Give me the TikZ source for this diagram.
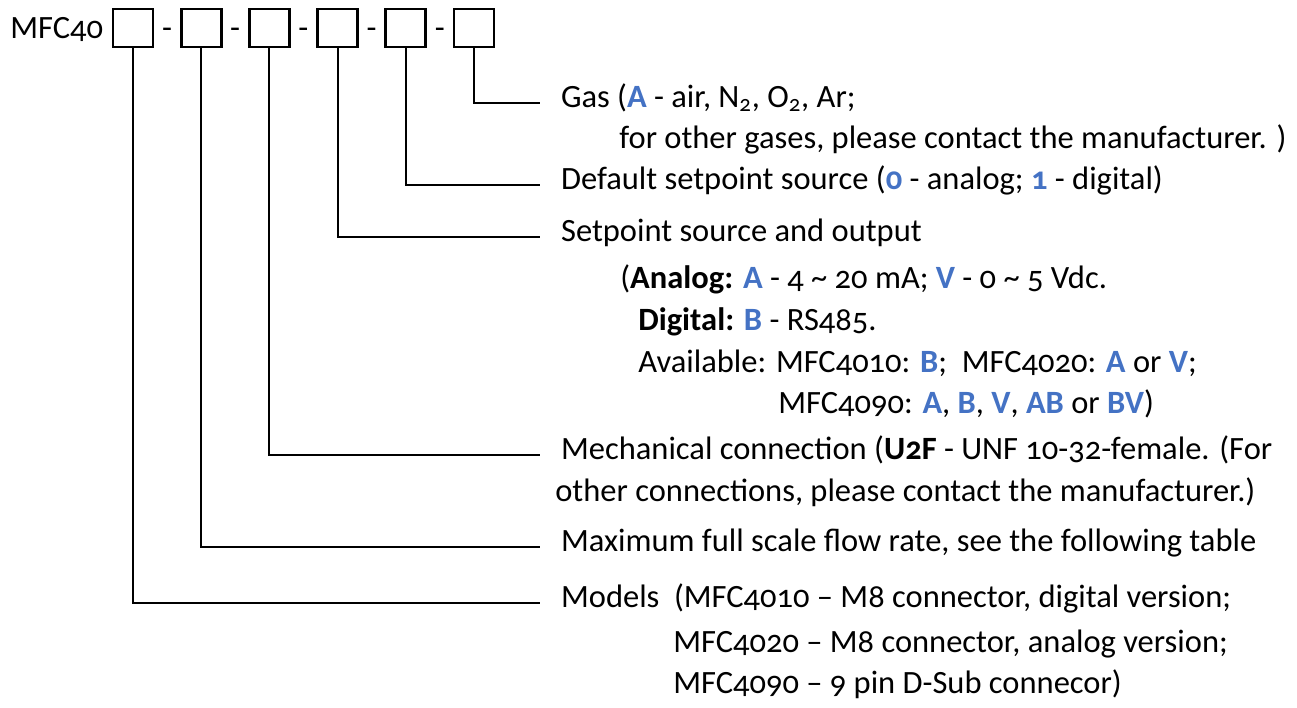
\documentclass[tikz,border=0pt]{standalone}
\usepackage{fontspec}
\setmainfont{Carlito}[Numbers=OldStyle]
\usepackage{xcolor}
\usepackage{tikz}
\usetikzlibrary{positioning}
\definecolor{optblue}{RGB}{68,114,196}
\newcommand{\opt}[1]{\textbf{\textcolor{optblue}{#1}}}

\begin{document}
\begin{tikzpicture}[x=0.02cm, y=-0.02cm, font=\fontsize{18.5pt}{22pt}\selectfont,
  slot/.style={draw, line width=1.5pt, minimum width=0.8cm, minimum height=0.76cm, inner sep=0pt},
  desc/.style={anchor=west, inner sep=0pt, outer xsep=12pt, text height=0.75em, text depth=0.25em},
  more/.style={anchor=west, inner sep=0pt, text height=0.75em, text depth=0.25em},
  lead/.style={line width=1.1pt}]
  \useasboundingbox (0,0) rectangle (1297,707);
  \node [anchor=base west, inner sep=0pt] (pre) at (10,38) {MFC40};
  \foreach \i in {1,...,6} {
    \node [slot] (b\i) at ({133+68.2*(\i-1)}, 28) {};
  }
  \foreach \i in {1,...,5} {
    \node [anchor=base, inner sep=0pt] (d\i) at ({167+68.2*(\i-1)}, 38) {-};
  }
  \node [desc] (gas) at (540,103) {Gas (\opt{A} - air, N\textsubscript{2}, O\textsubscript{2}, Ar;};
  \node [more] (gas2) at (619,144) {for other gases, please contact the manufacturer. )};
  \node [desc] (dflt) at (540,185) {Default setpoint source (\opt{0} - analog; \opt{1} - digital)};
  \node [desc] (spsrc) at (540,237) {Setpoint source and output};
  \node [more] (sp2) at (620,284) {(\textbf{Analog:} \opt{A} - 4 \textasciitilde{} 20 mA; \opt{V} - 0 \textasciitilde{} 5 Vdc.};
  \node [more] (sp3) at (638,326) {\textbf{Digital:} \opt{B} - RS485.};
  \node [more] (sp4) at (638,368) {Available: MFC4010: \opt{B};\ \ MFC4020: \opt{A} or \opt{V};};
  \node [more] (sp5) at (778,409) {MFC4090: \opt{A}, \opt{B}, \opt{V}, \opt{AB} or \opt{BV})};
  \node [desc] (mech) at (540,455) {Mechanical connection (\textbf{U2F} - UNF 10-32-female. (For};
  \node [more] (mech2) at (555,497) {other connections, please contact the manufacturer.)};
  \node [desc] (maxfs) at (540,547) {Maximum full scale flow rate, see the following table};
  \node [desc] (models) at (540,603) {Models\ \ (MFC4010 -- M8 connector, digital version;};
  \node [more] (models2) at (673,648) {MFC4020 -- M8 connector, analog version;};
  \node [more] (models3) at (673,689) {MFC4090 -- 9 pin D-Sub connecor)};
  \draw [lead] (b6.south) |- (gas.west);
  \draw [lead] (b5.south) |- (dflt.west);
  \draw [lead] (b4.south) |- (spsrc.west);
  \draw [lead] (b3.south) |- (mech.west);
  \draw [lead] (b2.south) |- (maxfs.west);
  \draw [lead] (b1.south) |- (models.west);
\end{tikzpicture}
\end{document}
